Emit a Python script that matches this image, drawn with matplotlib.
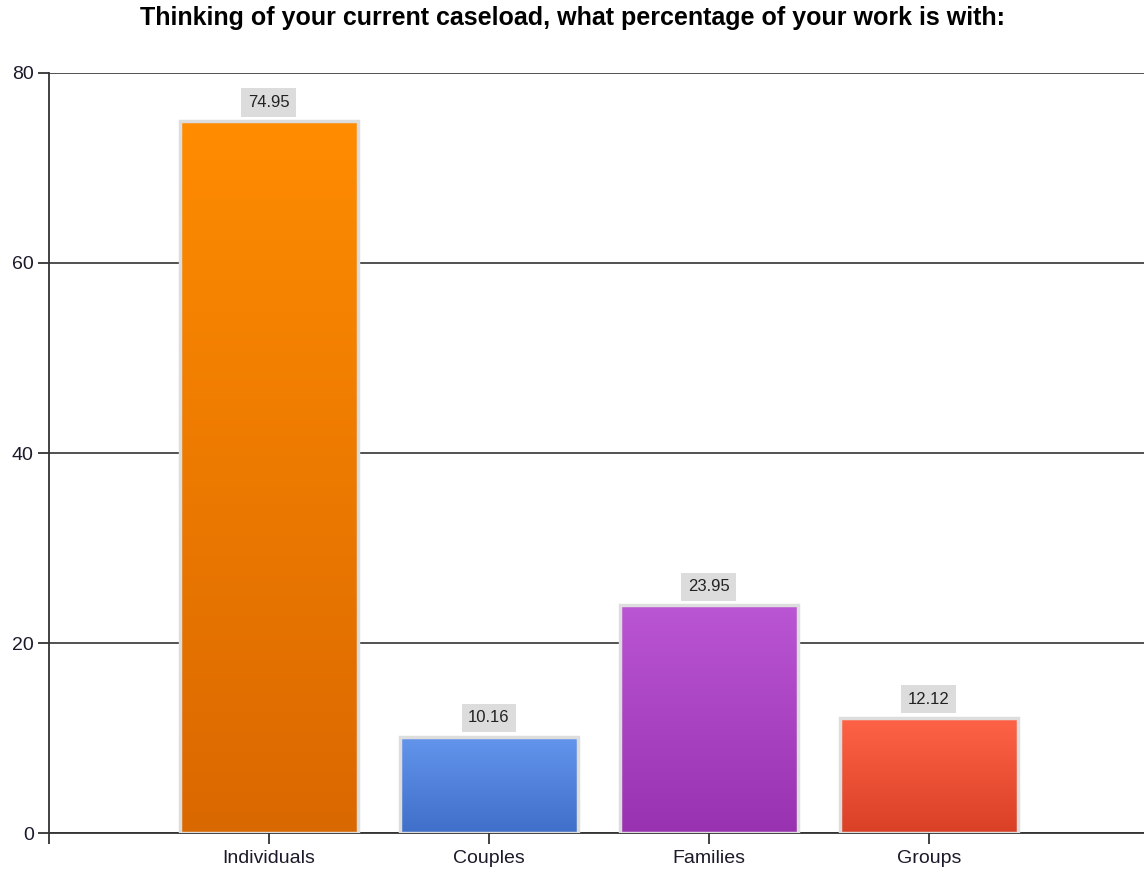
import matplotlib
matplotlib.use("Agg")
import matplotlib.pyplot as plt
import numpy as np
from matplotlib.colors import LinearSegmentedColormap

plt.rcParams['font.family'] = ['Liberation Sans', 'DejaVu Sans']

# Survey results
categories = ['Individuals', 'Couples', 'Families', 'Groups']
values = [74.95, 10.16, 23.95, 12.12]
top_colors = ['#FF8C00', '#6495ED', '#BA55D3', '#FF6347']
bottom_colors = ['#DA6800', '#3F6FC8', '#9932B0', '#D94025']

fig = plt.figure(figsize=(11.44, 8.71), dpi=100)
ax = fig.add_axes([0.0428, 0.0436, 0.9615, 0.8726])

x = np.arange(len(categories))
bar_width = 0.81

bars = ax.bar(x, values, width=bar_width, color='none', edgecolor='#DDDDDD',
              linewidth=2.5, zorder=3)

# Vertical gradient fill for each bar
for bar, c_top, c_bot in zip(bars, top_colors, bottom_colors):
    x0, y0 = bar.get_x(), bar.get_y()
    w, h = bar.get_width(), bar.get_height()
    cmap = LinearSegmentedColormap.from_list('g', [c_bot, c_top])
    grad = np.linspace(0, 1, 256).reshape(-1, 1)
    ax.imshow(grad, cmap=cmap, origin='lower', aspect='auto',
              extent=(x0, x0 + w, y0, y0 + h), zorder=2.5)
    # white backing so gridlines don't show through
    ax.add_patch(plt.Rectangle((x0, y0), w, h, facecolor='white',
                               edgecolor='none', zorder=2.4))

# Value labels
for xi, v in zip(x, values):
    ax.annotate(f'{v:.2f}', xy=(xi, v), xytext=(0, 8), textcoords='offset points',
                ha='center', va='bottom', fontsize=12, color='#222222',
                bbox=dict(boxstyle='square,pad=0.4', facecolor='#DCDCDC',
                          edgecolor='none'), zorder=4)

ax.set_xlim(-1, 4)
ax.set_ylim(0, 80)
ax.set_yticks([0, 20, 40, 60, 80])
ax.set_xticks([-1, 0, 1, 2, 3])
ax.set_xticklabels([''] + categories)
ax.tick_params(axis='both', length=8, width=1.3, color='#333333',
               labelsize=14, labelcolor='#1a1a2a')
ax.tick_params(axis='x', pad=4)
ax.tick_params(axis='y', pad=3)

ax.yaxis.grid(True, color='#333333', linewidth=1.2, zorder=1)
ax.set_axisbelow(True)
for side in ['top', 'right']:
    ax.spines[side].set_visible(False)
for side in ['left', 'bottom']:
    ax.spines[side].set_color('#333333')
    ax.spines[side].set_linewidth(1.3)

fig.text(0.5, 0.979, 'Thinking of your current caseload, what percentage of your work is with:',
         ha='center', va='center', fontsize=18, fontweight='bold', color='black')

fig.savefig('out.png', dpi=100)
